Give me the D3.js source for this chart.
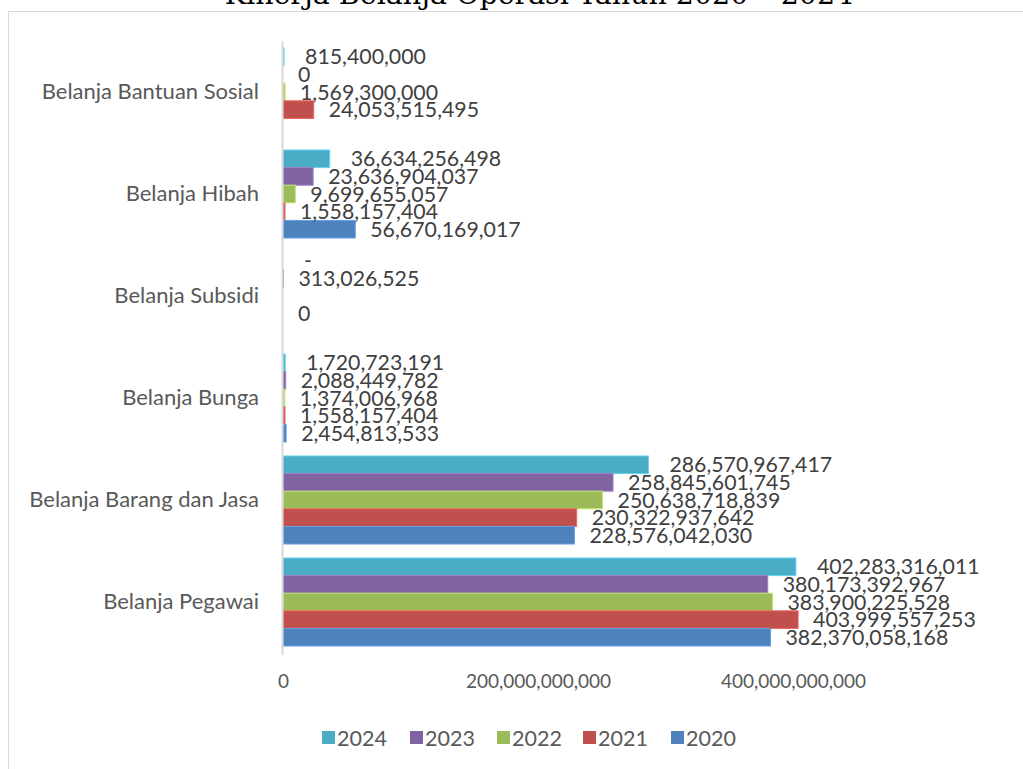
<!DOCTYPE html>
<html>
<head>
<meta charset="utf-8">
<script src="https://cdn.jsdelivr.net/npm/d3@7"></script>
<style>
  html, body { margin: 0; padding: 0; background: #fff; }
  svg { display: block; }
  text { font-family: Lato, "Noto Sans", sans-serif; fill: #595959; }
</style>
</head>
<body>
<svg id="chart" width="1023" height="769"></svg>
<script>
// Categories, listed from the top of the chart down
const categories = [
  "Belanja Bantuan Sosial",
  "Belanja Hibah",
  "Belanja Subsidi",
  "Belanja Bunga",
  "Belanja Barang dan Jasa",
  "Belanja Pegawai"
];

// Series years, drawn top-to-bottom inside each category
const years = ["2024", "2023", "2022", "2021", "2020"];
const colors = ["#4BACC6", "#8064A2", "#9BBB59", "#C0504D", "#4F81BD"];

// Values per year, in category order above (null = no value reported)
const v2024 = [815400000, 36634256498, 0, 1720723191, 286570967417, 402283316011];
const v2023 = [0, 23636904037, 313026525, 2088449782, 258845601745, 380173392967];
const v2022 = [1569300000, 9699655057, null, 1374006968, 250638718839, 383900225528];
const v2021 = [24053515495, 1558157404, 0, 1558157404, 230322937642, 403999557253];
const v2020 = [null, 56670169017, null, 2454813533, 228576042030, 382370058168];
const seriesValues = [v2024, v2023, v2022, v2021, v2020];

// Zero values shown with a dash instead of "0"
const dashZero = [{ year: "2024", category: "Belanja Subsidi" }];

// Axis ticks
const xTicks = [0, 200000000000, 400000000000];

const title = "Kinerja Belanja Operasi Tahun 2020 \u2013 2024";

const svg = d3.select("#chart");
const W = 1023, H = 769;

// Chart frame
svg.append("rect")
  .attr("x", 8.5).attr("y", 11.5)
  .attr("width", W + 10).attr("height", H)
  .attr("fill", "#fff").attr("stroke", "#d9d9d9").attr("stroke-width", 1);

// Title (sits partly above the top edge)
svg.append("text")
  .attr("x", 539).attr("y", 4)
  .attr("text-anchor", "middle")
  .style("font-family", "'DejaVu Serif', serif")
  .style("font-size", "28.5px")
  .style("fill", "#000")
  .text(title);

const plot = { left: 283, top: 41, bottom: 653 };

const x = d3.scaleLinear()
  .domain([0, 560000000000])
  .range([plot.left, plot.left + 714]);

const y0 = d3.scaleBand()
  .domain(categories)
  .range([plot.top, plot.bottom])
  .paddingInner(0.137)
  .paddingOuter(0.0685);

const y1 = d3.scaleBand()
  .domain(years)
  .range([0, y0.bandwidth()]);

const fmt = d3.format(",.0f");
const labelDx = { "2024": 21, "2023": 15, "2022": 15, "2021": 15, "2020": 15 };

// Flatten into one record per bar
const rows = [];
years.forEach((yr, si) => {
  categories.forEach((cat, ci) => {
    const v = seriesValues[si][ci];
    if (v === null) return;
    const dash = dashZero.some(d => d.year === yr && d.category === cat) && v === 0;
    rows.push({ year: yr, category: cat, value: v, color: colors[si], label: dash ? "-" : fmt(v) });
  });
});

// Bars
svg.append("g").selectAll("rect")
  .data(rows)
  .join("rect")
  .attr("x", x(0))
  .attr("y", d => y0(d.category) + y1(d.year))
  .attr("width", d => x(d.value) - x(0))
  .attr("height", y1.bandwidth())
  .attr("fill", d => d.color)
  .attr("stroke", d => d3.color(d.color).brighter(0.6))
  .attr("stroke-width", 1);

// Value axis line
svg.append("line")
  .attr("x1", x(0) - 0.5).attr("x2", x(0) - 0.5)
  .attr("y1", plot.top).attr("y2", plot.bottom + 2)
  .attr("stroke", "#d9d9d9").attr("stroke-width", 2);

// Data labels
svg.append("g").selectAll("text")
  .data(rows)
  .join("text")
  .attr("x", d => x(d.value) + labelDx[d.year])
  .attr("y", d => y0(d.category) + y1(d.year) + y1.bandwidth() / 2)
  .attr("dy", "0.36em")
  .style("font-size", "21.3px")
  .style("fill", "#404040")
  .text(d => d.label);

// Category axis labels
const yAxis = d3.axisLeft(y0).tickSize(0).tickPadding(24);
const gy = svg.append("g")
  .attr("transform", `translate(${x(0)},0)`)
  .call(yAxis);
gy.select(".domain").remove();
gy.selectAll("text")
  .style("font-size", "22px")
  .style("font-family", "Lato, sans-serif")
  .attr("fill", "#595959");

// Value axis tick labels
const xAxis = d3.axisBottom(x).tickValues(xTicks).tickSize(0).tickPadding(22)
  .tickFormat(d3.format(",.0f"));
const gx = svg.append("g")
  .attr("transform", `translate(0,${plot.bottom})`)
  .call(xAxis);
gx.select(".domain").remove();
gx.selectAll("text")
  .style("font-size", "19px")
  .style("font-family", "Lato, sans-serif")
  .attr("fill", "#595959");

// Legend
const legendX = [322, 410, 497, 583, 671];
const legend = svg.append("g").selectAll("g")
  .data(years)
  .join("g")
  .attr("transform", (d, i) => `translate(${legendX[i]},731)`);
legend.append("rect")
  .attr("width", 13).attr("height", 13)
  .attr("fill", (d, i) => colors[i]);
legend.append("text")
  .attr("x", 15).attr("y", 7).attr("dy", "0.36em")
  .style("font-size", "21.5px")
  .text(d => d);
</script>
</body>
</html>
